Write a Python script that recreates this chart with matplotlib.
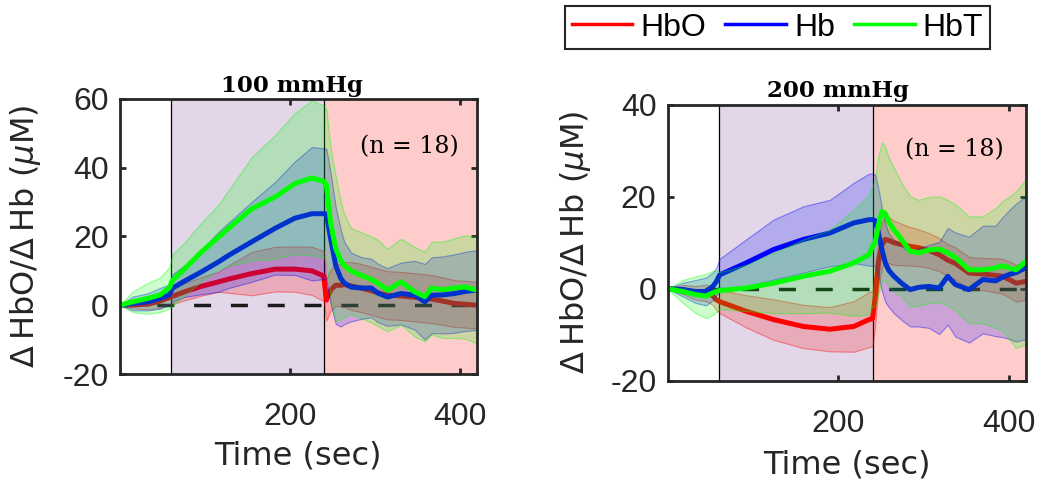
import numpy as np
import matplotlib
matplotlib.use("Agg")
import matplotlib.pyplot as plt

plt.rcParams['font.family'] = ['Liberation Sans', 'DejaVu Sans']
plt.rcParams['mathtext.fontset'] = 'custom'
plt.rcParams['mathtext.rm'] = 'DejaVu Sans'
plt.rcParams['mathtext.it'] = 'DejaVu Sans:italic'
plt.rcParams['axes.unicode_minus'] = False

# ---- 100 mmHg occlusion: group mean and spread (uM) ----
t100 = [0, 15, 33, 47, 58, 62, 76, 96, 116, 128, 155, 183, 206, 226, 240, 243, 248,
        254, 260, 264, 272, 284, 296, 304, 315, 331, 347, 359, 367, 380, 394, 406, 420]
hbo100 = [0, 0.1, 0.3, 1.2, 2.2, 2.6, 3.9, 5.5, 6.8, 7.6, 9.2, 10.5, 10.5, 10, 8.5, 1.5, 4.4,
          5.8, 5.8, 6, 5.6, 5, 4.2, 3.6, 2.9, 2.7, 2.3, 2, 1.8, 1.2, 0.5, 0.3, 0]
hbo100_sd = [0, 1, 1.5, 2, 2, 2.2, 2.5, 2.7, 2.9, 4, 6.3, 6.5, 6.6, 7, 7.3, 6, 6,
             6, 6.2, 6.5, 7, 7, 7, 7, 7, 7, 7, 7, 7, 6.9, 6.8, 6.8, 6.8]
hb100 = [0, 0.5, 1, 2, 3, 5, 7, 9.7, 12.6, 14.5, 18.4, 22.4, 25.3, 26.6, 26.6, 26.5, 19.5,
         11.6, 7.8, 6.5, 5.3, 5, 5, 3.5, 2.4, 3.4, 2.9, 1, 2.9, 3, 3.4, 4, 4.4]
hb100_sd = [0, 2, 2.5, 3, 3, 4, 4.6, 6.5, 8.7, 9.5, 11.6, 13.5, 16.5, 19.4, 19, 19, 19,
            17, 14, 12, 10, 9, 8.5, 8.5, 8.4, 9, 10, 11, 11, 11.2, 11.4, 11.5, 11.6]
hbt100 = [0, 1, 2, 3, 5, 7.3, 10.5, 15.5, 19.8, 22.4, 28, 31.5, 35.4, 37, 36, 35, 24,
          16.5, 13, 11.6, 10, 8.7, 7.5, 6.4, 4.4, 6.8, 3.9, 2.5, 5, 4.5, 5, 5.3, 4.4]
hbt100_sd = [0, 3, 4.5, 5, 6, 7.5, 7.7, 8.5, 9.4, 11, 15, 18, 20.5, 22.5, 22, 22, 22,
             21, 17, 15, 12.5, 12.5, 12.5, 12.5, 12, 12.5, 13, 13, 13.5, 14, 14.5, 15, 15.5]

# ---- 200 mmHg occlusion ----
t200 = [0, 18, 33, 45, 53, 57, 61, 92, 124, 159, 190, 218, 236, 240, 243, 247, 251,
        255, 259, 265, 274, 284, 294, 306, 318, 328, 337, 353, 369, 384, 392, 400, 408, 420]
hbo200 = [0, -0.2, -0.9, -0.9, -1.5, -2.4, -2.8, -4.9, -6.7, -8.2, -8.8, -8.2, -6.7, -6.5, -2, 6, 9.5,
          10.7, 10.5, 10, 9.6, 9.2, 8.9, 8.3, 7.4, 6.2, 5.5, 3.4, 3.2, 2.9, 2.7, 2, 1.2, 1.6]
hbo200_sd = [0, 1, 1.5, 1.8, 2, 2.2, 2.5, 3.5, 4.4, 4.7, 4.8, 5.5, 6, 6, 6, 5.5, 5,
             5, 5, 4.8, 4.5, 4.2, 4, 3.8, 3.6, 3.5, 3.5, 3.5, 3.5, 3.7, 3.8, 3.9, 4, 4]
hb200 = [0, -0.2, -0.6, -0.6, 0.5, 1.5, 3, 5.6, 8.5, 10.7, 12.1, 14.3, 15, 15, 14.8, 12.1, 8.5,
         5.6, 4, 2.7, 1.2, -0.2, 0.3, 0.5, 0.15, 2.7, 0.9, -0.2, 2, 1.7, 2.5, 3.1, 3.5, 4.6]
hb200_sd = [0, 1.5, 2.5, 3, 3, 3, 3.5, 5.1, 6.5, 7.2, 7.2, 8.7, 10, 10, 10, 9.5, 9,
            8.5, 8, 8, 8, 8, 8.5, 9, 10, 10.5, 11.3, 11.5, 11.7, 12, 13, 14, 15, 15.5]
hbt200 = [0, -0.6, -1.3, -1.6, -0.9, -0.6, -0.4, 0.15, 1.2, 2.7, 3.8, 5.6, 7.4, 9.2, 10, 14, 16.8,
          16.3, 14.5, 12.8, 10.7, 8.1, 7.8, 8.4, 8.6, 7.8, 6.8, 4.1, 4.1, 4.5, 5, 4.5, 4.1, 6]
hbt200_sd = [0, 2.5, 4, 4.8, 4.8, 4.5, 4, 5, 6.5, 8, 9, 11.5, 13, 13, 14, 15, 15,
             14.5, 14, 13.5, 12.3, 12, 11.5, 11.5, 11.5, 11.5, 11.5, 11.6, 11.6, 13, 14, 15.5, 17, 18]

panels = [
    ("100 mmHg", t100, [(hbo100, hbo100_sd), (hb100, hb100_sd), (hbt100, hbt100_sd)], (-20, 60)),
    ("200 mmHg", t200, [(hbo200, hbo200_sd), (hb200, hb200_sd), (hbt200, hbt200_sd)], (-20, 40)),
]
names = ["HbO", "Hb", "HbT"]
colors = ["#ff0000", "#0000ff", "#00ff00"]
occl_start, occl_end, t_end = 60, 240, 420

fig = plt.figure(figsize=(10.43, 4.82), dpi=100)
axes = [fig.add_axes([0.115, 0.224, 0.342, 0.571]),
        fig.add_axes([0.640, 0.210, 0.344, 0.573])]

title_x = [0.482, 0.476]
n_pos = [(0.81, 0.825), (0.80, 0.837)]
for k, (ax, (title, t, series, ylim)) in enumerate(zip(axes, panels)):
    t = np.asarray(t, dtype=float)
    ax.axvspan(occl_start, occl_end, color="#e2d6e8", lw=0, zorder=0)
    ax.axvspan(occl_end, t_end, color="#ffcccc", lw=0, zorder=0)
    ax.axvline(occl_start, color="black", lw=0.9, zorder=1)
    ax.axvline(occl_end, color="black", lw=0.9, zorder=1)
    ax.plot([0, t_end], [0, 0], color="#1a1a1a", lw=2.5, dashes=(4.9, 5.7), zorder=2)

    # band then mean line per signal, so later bands tint earlier lines
    z = 3
    for (m, sd), c in zip(series, colors):
        m = np.asarray(m, dtype=float)
        sd = np.asarray(sd, dtype=float)
        rgb = matplotlib.colors.to_rgb(c)
        ax.fill_between(t, m - sd, m + sd, facecolor=rgb + (0.2,),
                        edgecolor=rgb + (0.4,), lw=0.8, zorder=z)
        ax.plot(t, m, color=c, lw=3.6, zorder=z + 1)
        z += 2

    ax.set_xlim(0, t_end)
    ax.set_ylim(*ylim)
    ax.set_xticks([200, 400])
    ax.set_yticks(np.arange(ylim[0], ylim[1] + 1, 20))
    ax.tick_params(direction="in", length=4, width=2, top=True, right=True,
                   labelsize=23, color="#262626", labelcolor="#262626", pad=8)
    ax.tick_params(axis="x", pad=20)
    for sp in ax.spines.values():
        sp.set_linewidth(2)
        sp.set_color("#262626")
        sp.set_zorder(20)

    ax.set_ylabel("Δ\u2009HbO/Δ\u2009Hb ($\\mu$M)", fontsize=23, color="#262626",
                  family="DejaVu Sans")
    ax.set_xlabel("Time (sec)", fontsize=23, color="#262626", family="DejaVu Sans")
    ax.text(title_x[k], 1.008, title, transform=ax.transAxes, ha="center", va="bottom",
            family="DejaVu Serif", fontweight="bold", fontsize=16.5)
    ax.text(n_pos[k][0], n_pos[k][1], "(n = 18)", transform=ax.transAxes, ha="center",
            va="center", family="DejaVu Serif", fontsize=17, zorder=25)

axes[0].yaxis.set_label_coords(-0.216, 0.5)
axes[1].yaxis.set_label_coords(-0.209, 0.5)
axes[0].xaxis.set_label_coords(0.5, -0.24)
axes[1].xaxis.set_label_coords(0.5, -0.25)

leg = fig.legend([plt.Line2D([], [], color=c, lw=2.5) for c in colors], names,
                 loc="center", bbox_to_anchor=(777.5 / 1043, 1 - 27.5 / 482), ncol=3,
                 fontsize=23, handlelength=1.9, handletextpad=0.25, columnspacing=0.6,
                 borderpad=0.2, fancybox=False, framealpha=1, edgecolor="#262626")
leg.get_frame().set_linewidth(1.5)

fig.savefig("out.png", dpi=100)
